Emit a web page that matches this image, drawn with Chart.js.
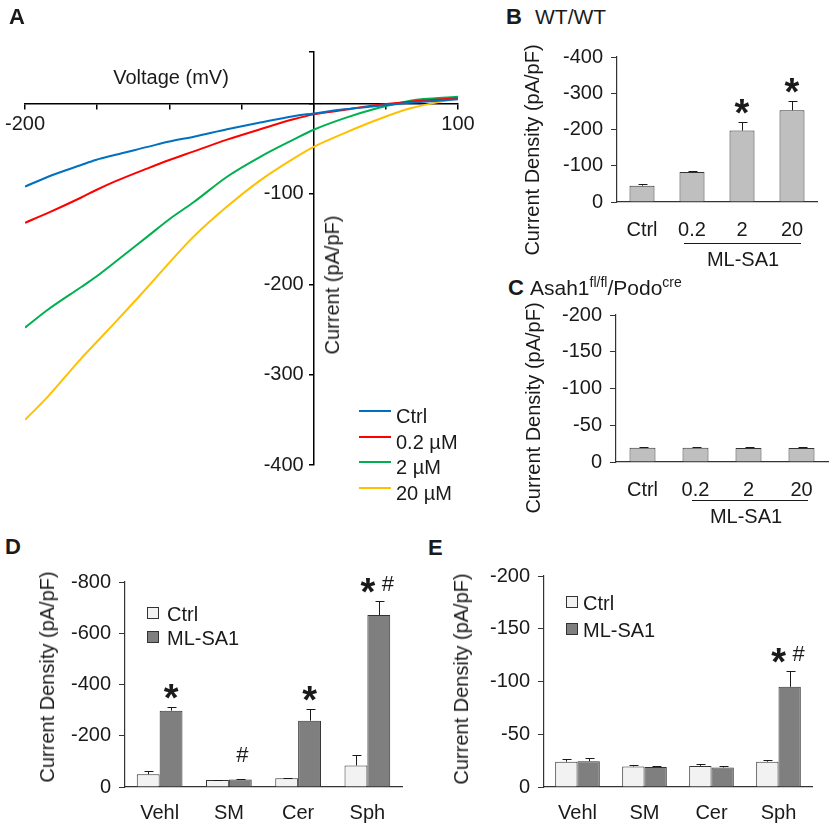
<!DOCTYPE html>
<html>
<head>
<meta charset="utf-8">
<script src="https://cdn.jsdelivr.net/npm/chart.js@4.4.0/dist/chart.umd.min.js"></script>
<style>
  body { margin: 0; width: 835px; height: 828px; position: relative; overflow: hidden; background: #fff;
         font-family: 'Liberation Sans', Arial, sans-serif; color: #1a1a1a; }
  canvas { position: absolute; }
  .t { position: absolute; white-space: nowrap; font-size: 20px; line-height: 1; }
  .mid { transform: translateY(-50%); }
  .c { transform: translate(-50%, -50%); }
  .rot { transform: translate(-50%, -50%) rotate(-90deg); }
  .L { position: absolute; font-weight: bold; font-size: 22px; line-height: 1; }
  .line { position: absolute; height: 0; border-top: 1px solid #1a1a1a; }
  .sw { position: absolute; width: 32px; height: 0; border-top: 2px solid; }
  .sq { position: absolute; width: 10px; height: 10px; border: 1px solid #333; transform: translateY(-50%); }
  sup { font-size: 14px; vertical-align: 8px; }
</style>
</head>
<body>
<canvas id="chartA" width="480" height="480" style="left:0;top:0"></canvas>
<canvas id="chartB"></canvas>
<canvas id="chartC"></canvas>
<canvas id="chartD"></canvas>
<canvas id="chartE"></canvas>

<!-- panel letters and titles -->
<div class="L" style="left:9px;top:6px">A</div>
<div class="L" style="left:506px;top:6px">B</div>
<div class="t mid" style="left:535px;top:16px;font-size:21px">WT/WT</div>
<div class="L" style="left:508px;top:277px">C</div>
<div class="t mid" style="left:530px;top:286px;font-size:21px">Asah1<sup>fl/fl</sup>/Podo<sup>cre</sup></div>
<div class="L" style="left:5px;top:536px">D</div>
<div class="L" style="left:428px;top:537px">E</div>

<!-- axis titles -->
<div class="t c" style="left:171px;top:77px">Voltage (mV)</div>
<div class="t rot" style="left:332px;top:285px">Current (pA/pF)</div>
<div class="t rot" style="left:532px;top:150px">Current Density (pA/pF)</div>
<div class="t rot" style="left:533px;top:408px">Current Density (pA/pF)</div>
<div class="t rot" style="left:47px;top:677px">Current Density (pA/pF)</div>
<div class="t rot" style="left:461px;top:679px">Current Density (pA/pF)</div>

<!-- ML-SA1 brackets -->
<div class="line" style="left:684px;top:243px;width:117px"></div>
<div class="t c" style="left:743px;top:259px">ML-SA1</div>
<div class="line" style="left:692px;top:500px;width:116px"></div>
<div class="t c" style="left:746px;top:516px">ML-SA1</div>

<!-- legend A -->
<div class="sw" style="left:359px;top:410px;border-color:#0070c0"></div>
<div class="t mid" style="left:396px;top:416px">Ctrl</div>
<div class="sw" style="left:359px;top:436px;border-color:#ff0000"></div>
<div class="t mid" style="left:396px;top:442px">0.2 µM</div>
<div class="sw" style="left:359px;top:461px;border-color:#00b050"></div>
<div class="t mid" style="left:396px;top:467px">2 µM</div>
<div class="sw" style="left:359px;top:487px;border-color:#ffc000"></div>
<div class="t mid" style="left:396px;top:493px">20 µM</div>

<!-- legends D and E -->
<div class="sq" style="left:147px;top:613px;background:#f2f2f2"></div>
<div class="t mid" style="left:167px;top:614px">Ctrl</div>
<div class="sq" style="left:147px;top:637px;background:#7f7f7f"></div>
<div class="t mid" style="left:167px;top:638px">ML-SA1</div>
<div class="sq" style="left:566px;top:602px;background:#f2f2f2"></div>
<div class="t mid" style="left:583px;top:603px">Ctrl</div>
<div class="sq" style="left:566px;top:629px;background:#7f7f7f"></div>
<div class="t mid" style="left:583px;top:630px">ML-SA1</div>

<script>
// ---- Panel A: I-V curves ----
const voltages = [-200, -184, -161, -151, -138, -115, -100, -83, -60, -37, -14, 0, 21, 44, 67, 100];
const ivCtrl = [-92, -81, -68, -62.5, -57, -48, -42, -36.7, -28.5, -21, -14, -11, -6.4, -2.8, 0.9, 4.6];
const iv02 = [-132, -121, -104, -96, -86.5, -71.7, -62.5, -53, -40, -28.5, -17.5, -12, -7.2, -1.7, 2, 5.8];
const iv2 = [-248, -228, -203, -192, -176, -147, -128, -109, -81, -59, -40, -29, -16.4, -5.3, 3.1, 7.5];
const iv20 = [-350, -324, -282, -265, -243, -203, -176, -147, -114, -85, -61, -48, -33, -18, -5.3, 5.8];
const ivLabels = ['Ctrl', '0.2 µM', '2 µM', '20 µM'];
const ivColors = ['#0070c0', '#ff0000', '#00b050', '#ffc000'];
const xTicksA = [-200, -150, -100, -50, 0, 50, 100];
const yTicksA = [-400, -300, -200, -100, 0, 57];

// ---- Panels B, C: dose response ----
const doseLabels = ['Ctrl', '0.2', '2', '20'];
const wtValues = [-45, -83, -197, -253];
const wtErrors = [6, 3, 25, 26];
const wtMarks = ['', '', '*', '*'];
const koValues = [-19.5, -19.5, -19, -19];
const koErrors = [1, 1, 1, 1];

// ---- Panels D, E: lipid treatments ----
const lipidLabels = ['Vehl', 'SM', 'Cer', 'Sph'];
const wtCtrl = [-50, -27, -34, -84];
const wtCtrlErr = [12, 2, 2, 41];
const wtMl = [-298, -29, -259, -671];
const wtMlErr = [13, 3, 46, 55];
const wtMlMarks = ['*', '#', '*', '*#'];
const koCtrl = [-24, -19.5, -20, -24];
const koCtrlErr = [3, 1.5, 2, 1.5];
const koMl = [-24.5, -19, -18.5, -95];
const koMlErr = [3, 1, 1.8, 15];
const koMlMarks = ['', '', '', '*#'];

Chart.defaults.font.family = "'Liberation Sans', Arial, sans-serif";
Chart.defaults.font.size = 20;
Chart.defaults.color = '#1a1a1a';

const errorBars = {
  id: 'errorBars',
  afterDatasetsDraw(chart) {
    const ctx = chart.ctx;
    const y = chart.scales.y;
    ctx.save();
    ctx.strokeStyle = '#1a1a1a';
    ctx.lineWidth = 1;
    chart.data.datasets.forEach((ds, i) => {
      if (!ds.errors) return;
      chart.getDatasetMeta(i).data.forEach((bar, j) => {
        const top = Math.round(y.getPixelForValue(ds.data[j] - ds.errors[j])) + 0.5;
        const x = Math.round(bar.x) + 0.5;
        ctx.beginPath();
        ctx.moveTo(x, bar.y);
        ctx.lineTo(x, top);
        ctx.moveTo(x - 4, top);
        ctx.lineTo(x + 5, top);
        ctx.stroke();
      });
    });
    ctx.restore();
  }
};

const drawStar = (ctx, x, cy) => {
  ctx.font = "bold 38px 'Liberation Sans', Arial";
  ctx.fillText('*', x, cy + 22);
};
const drawHash = (ctx, x, cy) => {
  ctx.font = "22px 'Liberation Sans', Arial";
  ctx.fillText('#', x, cy + 8);
};

const sigMarks = {
  id: 'sigMarks',
  afterDatasetsDraw(chart) {
    const ctx = chart.ctx;
    const y = chart.scales.y;
    ctx.save();
    ctx.fillStyle = '#1a1a1a';
    ctx.textAlign = 'center';
    ctx.textBaseline = 'alphabetic';
    chart.data.datasets.forEach((ds, i) => {
      if (!ds.marks) return;
      chart.getDatasetMeta(i).data.forEach((bar, j) => {
        const m = ds.marks[j];
        if (!m) return;
        const cy = y.getPixelForValue(ds.data[j] - ds.errors[j]) - 18;
        if (m === '*') drawStar(ctx, bar.x, cy);
        if (m === '#') drawHash(ctx, bar.x + 2, cy - 7);
        if (m === '*#') {
          drawStar(ctx, bar.x - 11, cy);
          drawHash(ctx, bar.x + 9, cy);
        }
      });
    });
    ctx.restore();
  }
};

// labels of an axis placed at x=0 end right on the line, so pad them with an en space
new Chart(document.getElementById('chartA'), {
  type: 'line',
  data: {
    datasets: [ivCtrl, iv02, iv2, iv20].map((vals, i) => ({
      label: ivLabels[i],
      data: voltages.map((v, k) => ({ x: v, y: vals[k] })),
      borderColor: ivColors[i],
      borderWidth: 2,
      pointRadius: 0,
      cubicInterpolationMode: 'monotone',
      fill: false
    }))
  },
  options: {
    responsive: false,
    animation: false,
    layout: { padding: { left: 25, right: 22, top: 52, bottom: 15 } },
    plugins: { legend: { display: false }, tooltip: { enabled: false } },
    scales: {
      x: {
        type: 'linear', min: -200, max: 100, position: { y: 0 },
        afterBuildTicks: s => { s.ticks = xTicksA.map(v => ({ value: v })); },
        ticks: { callback: v => (v === -200 || v === 100) ? String(v) : '', maxRotation: 0, autoSkip: false, padding: 4 },
        grid: { drawOnChartArea: false, tickLength: 5, color: '#000', lineWidth: 1.5 },
        border: { color: '#000', width: 1.5 }
      },
      y: {
        type: 'linear', min: -400, max: 57, position: { x: 0 },
        afterBuildTicks: s => { s.ticks = yTicksA.map(v => ({ value: v })); },
        ticks: { callback: v => v < 0 ? String(v) + '\u2002' : '', autoSkip: false },
        grid: { drawOnChartArea: false, tickLength: 4, color: '#000', lineWidth: 1.5 },
        border: { color: '#000', width: 1.5 }
      }
    }
  }
});

const makeBars = (id, area, labels, datasets, yMax, step, bar, labelPad) => {
  const canvas = document.getElementById(id);
  canvas.style.left = (area.left - 80) + 'px';
  canvas.style.top = (area.top - 20) + 'px';
  canvas.width = area.right - area.left + 95;
  canvas.height = area.bottom - area.top + 65;
  return new Chart(canvas, {
    type: 'bar',
    data: { labels: labels, datasets: datasets },
    plugins: [errorBars, sigMarks],
    options: {
      responsive: false,
      animation: false,
      layout: { padding: { left: 20, top: 20, right: 15, bottom: 5 } },
      plugins: { legend: { display: false }, tooltip: { enabled: false } },
      datasets: { bar: { barPercentage: bar.bp, categoryPercentage: bar.cp, borderWidth: 1, borderColor: '#333', borderSkipped: 'start' } },
      scales: {
        x: {
          afterFit: s => { s.height = 40; },
          grid: { display: false, drawTicks: false },
          border: { color: '#333', width: 1.2 },
          ticks: { padding: labelPad }
        },
        y: {
          min: -yMax, max: 0, reverse: true,
          afterFit: s => { s.width = 60; },
          ticks: { stepSize: step, padding: 8 },
          grid: { drawOnChartArea: false, tickLength: 6, color: '#333' },
          border: { color: '#333', width: 1.2 }
        }
      }
    }
  });
};

makeBars('chartB', { left: 617, right: 817, top: 57, bottom: 202 }, doseLabels, [
  { data: wtValues, errors: wtErrors, marks: wtMarks, backgroundColor: '#bfbfbf' }
], 400, 100, { bp: 0.5, cp: 1 }, 16);

makeBars('chartC', { left: 616, right: 828, top: 315, bottom: 462 }, doseLabels, [
  { data: koValues, errors: koErrors, backgroundColor: '#bfbfbf' }
], 200, 50, { bp: 0.49, cp: 1 }, 16);

makeBars('chartD', { left: 125, right: 402, top: 582, bottom: 787 }, lipidLabels, [
  { data: wtCtrl, errors: wtCtrlErr, backgroundColor: '#f2f2f2' },
  { data: wtMl, errors: wtMlErr, marks: wtMlMarks, backgroundColor: '#7f7f7f' }
], 800, 200, { bp: 1, cp: 0.66 }, 14);

makeBars('chartE', { left: 544, right: 812, top: 576, bottom: 787 }, lipidLabels, [
  { data: koCtrl, errors: koCtrlErr, backgroundColor: '#f2f2f2' },
  { data: koMl, errors: koMlErr, marks: koMlMarks, backgroundColor: '#7f7f7f' }
], 200, 50, { bp: 1, cp: 0.666 }, 14);
</script>
</body>
</html>
